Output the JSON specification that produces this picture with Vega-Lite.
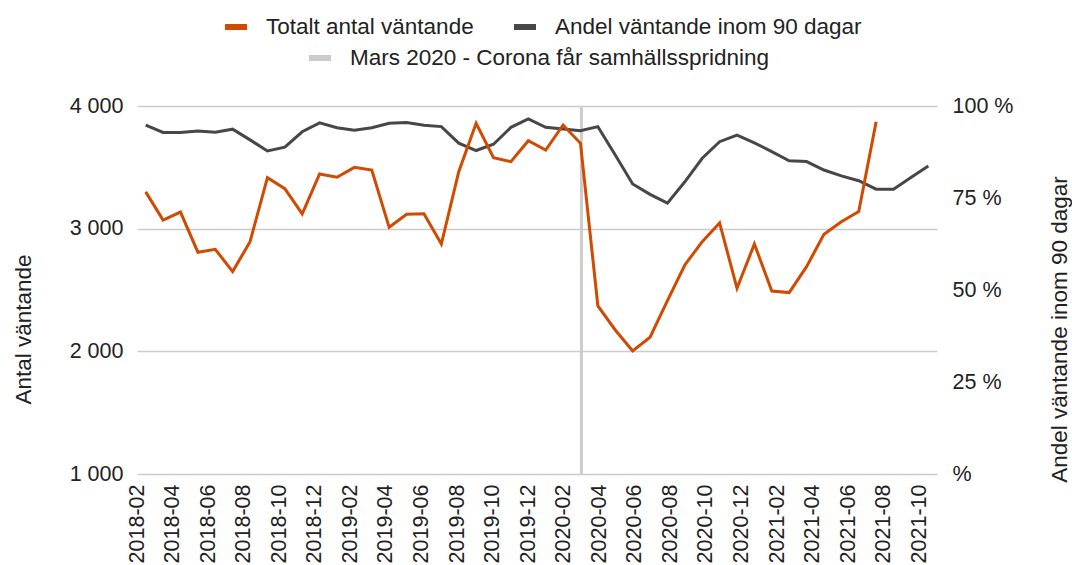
{
  "$schema": "https://vega.github.io/schema/vega-lite/v6.json",
  "autosize": "none",
  "width": 800,
  "height": 368,
  "padding": {"left": 137, "top": 106, "right": 135, "bottom": 91},
  "background": "white",
  "datasets": {
    "series": [
      {"month": "2018-02", "total": 3300, "andel": 94.8},
      {"month": "2018-03", "total": 3070, "andel": 92.8},
      {"month": "2018-04", "total": 3135, "andel": 92.8},
      {"month": "2018-05", "total": 2808, "andel": 93.2},
      {"month": "2018-06", "total": 2832, "andel": 92.9},
      {"month": "2018-07", "total": 2650, "andel": 93.7},
      {"month": "2018-08", "total": 2894, "andel": 90.8},
      {"month": "2018-09", "total": 3416, "andel": 87.8},
      {"month": "2018-10", "total": 3326, "andel": 88.8},
      {"month": "2018-11", "total": 3120, "andel": 93.0},
      {"month": "2018-12", "total": 3446, "andel": 95.4},
      {"month": "2019-01", "total": 3419, "andel": 94.1},
      {"month": "2019-02", "total": 3500, "andel": 93.4},
      {"month": "2019-03", "total": 3478, "andel": 94.1},
      {"month": "2019-04", "total": 3011, "andel": 95.3},
      {"month": "2019-05", "total": 3117, "andel": 95.5},
      {"month": "2019-06", "total": 3122, "andel": 94.8},
      {"month": "2019-07", "total": 2875, "andel": 94.4},
      {"month": "2019-08", "total": 3465, "andel": 89.9},
      {"month": "2019-09", "total": 3859, "andel": 87.9},
      {"month": "2019-10", "total": 3579, "andel": 89.6},
      {"month": "2019-11", "total": 3546, "andel": 94.2},
      {"month": "2019-12", "total": 3717, "andel": 96.5},
      {"month": "2020-01", "total": 3641, "andel": 94.2},
      {"month": "2020-02", "total": 3845, "andel": 93.75},
      {"month": "2020-03", "total": 3696, "andel": 93.3},
      {"month": "2020-04", "total": 2370, "andel": 94.4},
      {"month": "2020-05", "total": 2174, "andel": 86.7},
      {"month": "2020-06", "total": 2003, "andel": 78.8},
      {"month": "2020-07", "total": 2115, "andel": 76.0},
      {"month": "2020-08", "total": 2413, "andel": 73.6},
      {"month": "2020-09", "total": 2704, "andel": 79.4},
      {"month": "2020-10", "total": 2894, "andel": 85.8},
      {"month": "2020-11", "total": 3047, "andel": 90.3},
      {"month": "2020-12", "total": 2514, "andel": 92.1},
      {"month": "2021-01", "total": 2875, "andel": 90.0},
      {"month": "2021-02", "total": 2492, "andel": 87.6},
      {"month": "2021-03", "total": 2479, "andel": 85.1},
      {"month": "2021-04", "total": 2690, "andel": 84.9},
      {"month": "2021-05", "total": 2954, "andel": 82.6},
      {"month": "2021-06", "total": 3057, "andel": 81.0},
      {"month": "2021-07", "total": 3139, "andel": 79.7},
      {"month": "2021-08", "total": 3872, "andel": 77.4},
      {"month": "2021-09", "total": null, "andel": 77.4},
      {"month": "2021-10", "total": null, "andel": 80.6},
      {"month": "2021-11", "total": null, "andel": 83.7}
    ],
    "events": [
      {"month": "2020-03", "label": "Mars 2020 - Corona får samhällsspridning"}
    ]
  },
  "config": {
    "view": {"stroke": null},
    "font": "Liberation Sans",
    "axis": {
      "labelFont": "Liberation Sans",
      "titleFont": "Liberation Sans",
      "labelColor": "#222222",
      "titleColor": "#222222",
      "titleFontWeight": "normal",
      "domain": false,
      "ticks": false
    },
    "legend": {
      "labelFont": "Liberation Sans"
    }
  },
  "resolve": {"scale": {"x": "independent", "y": "independent"}},
  "layer": [
    {
      "data": {"name": "events"},
      "mark": {"type": "rule", "strokeWidth": 3},
      "encoding": {
        "x": {
          "field": "month",
          "type": "ordinal",
          "scale": {
            "type": "point",
            "padding": 0,
            "domain": ["2018-02","2018-03","2018-04","2018-05","2018-06","2018-07","2018-08","2018-09","2018-10","2018-11","2018-12","2019-01","2019-02","2019-03","2019-04","2019-05","2019-06","2019-07","2019-08","2019-09","2019-10","2019-11","2019-12","2020-01","2020-02","2020-03","2020-04","2020-05","2020-06","2020-07","2020-08","2020-09","2020-10","2020-11","2020-12","2021-01","2021-02","2021-03","2021-04","2021-05","2021-06","2021-07","2021-08","2021-09","2021-10","2021-11"]
          },
          "axis": {
            "title": null,
            "values": ["2018-02","2018-04","2018-06","2018-08","2018-10","2018-12","2019-02","2019-04","2019-06","2019-08","2019-10","2019-12","2020-02","2020-04","2020-06","2020-08","2020-10","2020-12","2021-02","2021-04","2021-06","2021-08","2021-10"],
            "labelAngle": 270,
            "labelFontSize": 21.5,
            "labelPadding": 10,
            "labelOverlap": false,
            "grid": false
          }
        },
        "stroke": {
          "field": "label",
          "type": "nominal",
          "scale": {"range": ["#cccccc"]},
          "legend": {
            "title": null,
            "orient": "none",
            "legendX": 169,
            "legendY": -62,
            "direction": "horizontal",
            "padding": 0,
            "symbolType": "stroke",
            "symbolSize": 484,
            "symbolStrokeWidth": 6,
            "labelFontSize": 22.5,
            "labelColor": "#222222",
            "labelOffset": 16,
            "labelLimit": 700
          }
        }
      }
    },
    {
      "data": {"name": "series"},
      "mark": {"type": "line", "strokeWidth": 3},
      "encoding": {
        "x": {
          "field": "month",
          "type": "ordinal",
          "scale": {"type": "point", "padding": 0.5},
          "axis": null
        },
        "y": {
          "field": "andel",
          "type": "quantitative",
          "scale": {"domain": [0, 100], "nice": false},
          "axis": {
            "orient": "right",
            "title": "Andel väntande inom 90 dagar",
            "titleFontSize": 22.5,
            "titleAngle": 270,
            "titleBaseline": "top",
            "titlePadding": 36,
            "titleY": 223,
            "values": [0, 25, 50, 75, 100],
            "labelExpr": "datum.value == 0 ? '\u00a0%' : datum.value + ' %'",
            "labelFontSize": 21.5,
            "labelPadding": 15,
            "grid": false
          }
        },
        "color": {
          "datum": "Andel väntande inom 90 dagar",
          "type": "nominal",
          "scale": {
            "domain": ["Totalt antal väntande", "Andel väntande inom 90 dagar"],
            "range": ["#d04a02", "#474747"]
          },
          "legend": {
            "title": null,
            "orient": "none",
            "legendX": 85,
            "legendY": -93,
            "direction": "horizontal",
            "padding": 0,
            "symbolType": "stroke",
            "symbolSize": 484,
            "symbolStrokeWidth": 6,
            "labelFontSize": 22.5,
            "labelColor": "#222222",
            "labelOffset": 16,
            "columnPadding": 28,
            "labelLimit": 700
          }
        }
      }
    },
    {
      "data": {"name": "series"},
      "mark": {"type": "line", "strokeWidth": 3},
      "encoding": {
        "x": {
          "field": "month",
          "type": "ordinal",
          "scale": {
            "type": "point",
            "padding": 0.5,
            "domain": ["2018-02","2018-03","2018-04","2018-05","2018-06","2018-07","2018-08","2018-09","2018-10","2018-11","2018-12","2019-01","2019-02","2019-03","2019-04","2019-05","2019-06","2019-07","2019-08","2019-09","2019-10","2019-11","2019-12","2020-01","2020-02","2020-03","2020-04","2020-05","2020-06","2020-07","2020-08","2020-09","2020-10","2020-11","2020-12","2021-01","2021-02","2021-03","2021-04","2021-05","2021-06","2021-07","2021-08","2021-09","2021-10","2021-11"]
          },
          "axis": null
        },
        "y": {
          "field": "total",
          "type": "quantitative",
          "scale": {"domain": [1000, 4000], "nice": false},
          "axis": {
            "orient": "left",
            "title": "Antal väntande",
            "titleFontSize": 22.5,
            "titlePadding": 34,
            "titleY": 223,
            "values": [1000, 2000, 3000, 4000],
            "labelExpr": "replace(format(datum.value, ','), ',', ' ')",
            "labelFontSize": 21.5,
            "labelPadding": 14,
            "grid": true,
            "gridColor": "#cccccc",
            "gridWidth": 1.3
          }
        },
        "color": {
          "datum": "Totalt antal väntande",
          "type": "nominal"
        }
      }
    }
  ]
}
